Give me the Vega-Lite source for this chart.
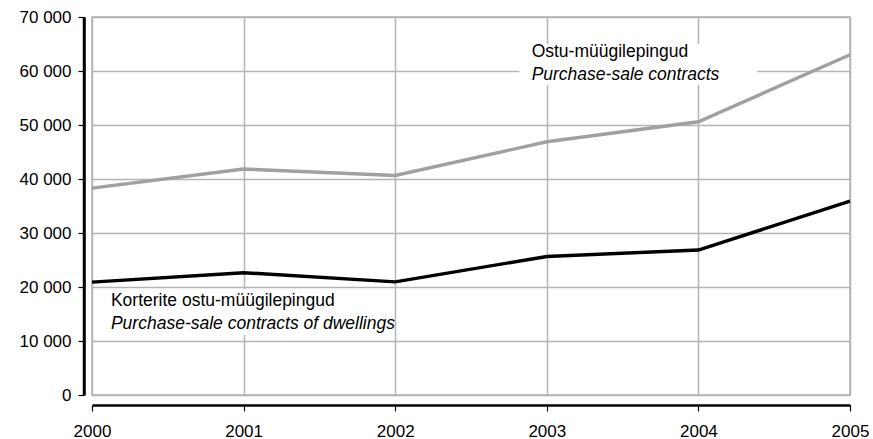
{
  "$schema": "https://vega.github.io/schema/vega-lite/v6.json",
  "width": 758,
  "height": 378,
  "autosize": {"type": "none"},
  "padding": {"left": 92, "top": 17, "right": 23, "bottom": 44},
  "background": "white",
  "config": {
    "font": "Liberation Sans",
    "view": {"stroke": "#b4b4b4", "strokeWidth": 1.5}
  },
  "datasets": {
    "series": [
      {"year": 2000, "series": "Ostu-müügilepingud", "value": 38300},
      {"year": 2001, "series": "Ostu-müügilepingud", "value": 41850},
      {"year": 2002, "series": "Ostu-müügilepingud", "value": 40650},
      {"year": 2003, "series": "Ostu-müügilepingud", "value": 46900},
      {"year": 2004, "series": "Ostu-müügilepingud", "value": 50600},
      {"year": 2005, "series": "Ostu-müügilepingud", "value": 63000},
      {"year": 2000, "series": "Korterite ostu-müügilepingud", "value": 20900},
      {"year": 2001, "series": "Korterite ostu-müügilepingud", "value": 22650},
      {"year": 2002, "series": "Korterite ostu-müügilepingud", "value": 20950},
      {"year": 2003, "series": "Korterite ostu-müügilepingud", "value": 25650},
      {"year": 2004, "series": "Korterite ostu-müügilepingud", "value": 26850},
      {"year": 2005, "series": "Korterite ostu-müügilepingud", "value": 35900}
    ],
    "boxes": [
      {"x": 2002.82, "x2": 2004.39, "y": 65000, "y2": 57400},
      {"x": 2000.05, "x2": 2001.75, "y": 19600, "y2": 11100}
    ],
    "axisline": [
      {"x": 2000, "y": 0, "y2": 70000}
    ],
    "labels": [
      {"x": 2002.9, "y": 62600, "text": "Ostu-müügilepingud", "kind": "normal"},
      {"x": 2002.9, "y": 58300, "text": "Purchase-sale contracts", "kind": "italic"},
      {"x": 2000.125, "y": 16500, "text": "Korterite ostu-müügilepingud", "kind": "normal"},
      {"x": 2000.125, "y": 12300, "text": "Purchase-sale contracts of dwellings", "kind": "italic"}
    ]
  },
  "layer": [
    {
      "data": {"name": "boxes"},
      "mark": {"type": "rect", "fill": "white"},
      "encoding": {
        "x": {
          "field": "x", "type": "quantitative",
          "scale": {"domain": [2000, 2005], "nice": false, "zero": false},
          "axis": {
            "values": [2000, 2001, 2002, 2003, 2004, 2005],
            "format": "d",
            "title": null,
            "offset": 10,
            "domain": true,
            "domainColor": "#000000",
            "domainWidth": 2.5,
            "tickColor": "black",
            "tickWidth": 1.2,
            "tickSize": 6,
            "labelFont": "Liberation Sans",
            "labelFontSize": 17,
            "labelColor": "black",
            "labelPadding": 12,
            "labelFlush": false,
            "grid": true,
            "gridColor": "#b4b4b4",
            "gridWidth": 1.5
          }
        },
        "x2": {"field": "x2"},
        "y": {
          "field": "y", "type": "quantitative",
          "scale": {"domain": [0, 70000], "nice": false, "zero": true},
          "axis": {
            "values": [0, 10000, 20000, 30000, 40000, 50000, 60000, 70000],
            "labelExpr": "replace(format(datum.value, ','), ',', ' ')",
            "title": null,
            "offset": 8,
            "domain": true,
            "domainColor": "#000000",
            "domainWidth": 2.5,
            "tickColor": "black",
            "tickWidth": 1.2,
            "tickSize": 6,
            "labelFont": "Liberation Sans",
            "labelFontSize": 17,
            "labelColor": "black",
            "labelPadding": 7,
            "labelFlush": false,
            "grid": true,
            "gridColor": "#b4b4b4",
            "gridWidth": 1.5
          }
        },
        "y2": {"field": "y2"}
      }
    },
    {
      "data": {"name": "axisline"},
      "mark": {"type": "rule", "color": "#000000", "strokeWidth": 2.5, "xOffset": -8, "clip": false},
      "encoding": {
        "x": {"field": "x", "type": "quantitative"},
        "y": {"field": "y", "type": "quantitative"},
        "y2": {"field": "y2"}
      }
    },
    {
      "data": {"name": "series"},
      "mark": {"type": "line", "strokeWidth": 3.4, "strokeJoin": "miter"},
      "encoding": {
        "x": {"field": "year", "type": "quantitative"},
        "y": {"field": "value", "type": "quantitative"},
        "color": {
          "field": "series", "type": "nominal",
          "scale": {"domain": ["Ostu-müügilepingud", "Korterite ostu-müügilepingud"], "range": ["#a0a0a0", "#000000"]},
          "legend": null
        }
      }
    },
    {
      "data": {"name": "labels"},
      "transform": [{"filter": "datum.kind === 'normal'"}],
      "mark": {"type": "text", "align": "left", "baseline": "alphabetic", "fontSize": 17.5, "font": "Liberation Sans", "color": "black"},
      "encoding": {
        "x": {"field": "x", "type": "quantitative"},
        "y": {"field": "y", "type": "quantitative"},
        "text": {"field": "text"}
      }
    },
    {
      "data": {"name": "labels"},
      "transform": [{"filter": "datum.kind === 'italic'"}],
      "mark": {"type": "text", "align": "left", "baseline": "alphabetic", "fontSize": 17.5, "fontStyle": "italic", "font": "Liberation Sans", "color": "black"},
      "encoding": {
        "x": {"field": "x", "type": "quantitative"},
        "y": {"field": "y", "type": "quantitative"},
        "text": {"field": "text"}
      }
    }
  ]
}
